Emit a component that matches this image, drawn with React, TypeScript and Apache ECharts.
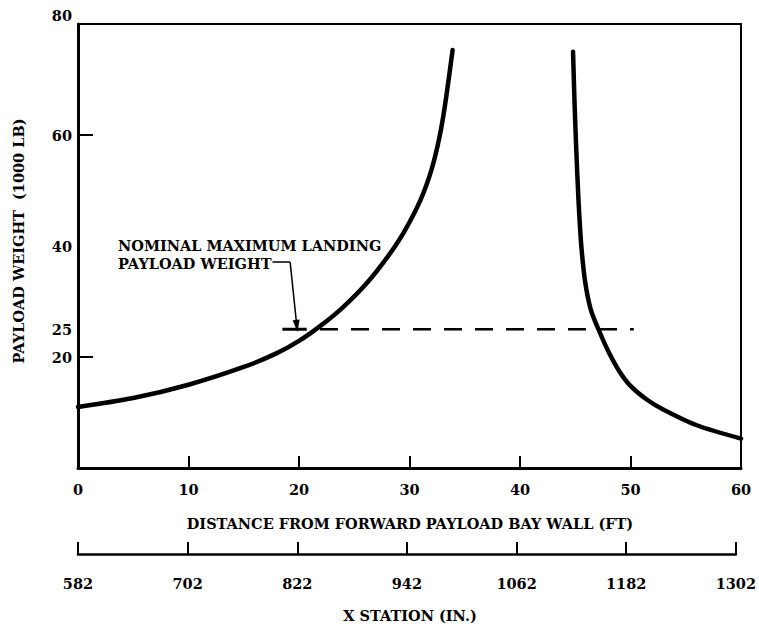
import React, { useEffect, useRef } from 'react';
import * as echarts from 'echarts';

const FONT = '"DejaVu Serif", "Liberation Serif", serif';
const FS = 14.5;

// Tick labels
const xTickLabels = ['0', '10', '20', '30', '40', '50', '60'];
const stationLabels = ['582', '702', '822', '942', '1062', '1182', '1302'];
const yLabelValues = [20, 25, 40, 60, 80];
const yTickValues = [20, 60];

// Curves (distance ft, payload 1000 lb)
const leftX = [0, 5, 10, 15, 18, 20, 22, 24, 26, 28, 29.5, 31, 32, 32.7, 33.2, 33.9];
const leftY = [11.0, 12.6, 15.0, 18.2, 20.7, 22.9, 25.7, 29.0, 33.0, 38.0, 42.5, 48.3, 53.8, 59.5, 65.2, 75.3];
const rightX = [44.8, 44.95, 45.1, 45.3, 45.55, 45.9, 46.4, 47.1, 48.0, 49.0, 50.0, 51.5, 53.0, 56.0, 60];
const rightY = [75, 65, 57, 48, 40, 33.5, 28.6, 25, 21, 17.4, 14.8, 12.3, 10.5, 7.7, 5.3];

// Nominal max landing payload weight line
const nominalWeight = 25;
const markerX = [18.5, 20.7];
const dashedX = [21.9, 50.3];
const leaderPts = [[17.6, 37.1], [19.2, 37.1], [19.8, 25.6]];

const zip = (xs: number[], ys: number[]) => xs.map((x, i) => [x, ys[i]]);

export default function App() {
  const ref = useRef<HTMLDivElement>(null);
  useEffect(() => {
    if (!ref.current) return;
    const chart = echarts.init(ref.current, null, { renderer: 'svg' });
    const labelStyle = {
      color: '#000',
      fontFamily: FONT,
      fontWeight: 'bold' as const,
      fontSize: FS,
    };
    const font = `bold ${FS}px ${FONT}`;
    chart.setOption({
      animation: false,
      backgroundColor: '#fff',
      grid: [
        { left: 78, top: 24, width: 663, height: 444, show: true, borderColor: '#000', borderWidth: 2 },
        { left: 78, top: 553, width: 663, height: 1 },
      ],
      xAxis: [
        {
          type: 'value', gridIndex: 0, min: 0, max: 60, interval: 10,
          axisLine: { show: true, onZero: false, lineStyle: { color: '#000', width: 3 } },
          axisTick: { show: true, inside: true, length: 12, lineStyle: { color: '#000', width: 2 } },
          axisLabel: { ...labelStyle, margin: 14, formatter: (v: number) => xTickLabels[Math.round(v / 10)] ?? '' },
          splitLine: { show: false },
        },
        {
          type: 'value', gridIndex: 1, min: 0, max: 720, interval: 120, position: 'bottom',
          axisLine: { show: true, onZero: false, lineStyle: { color: '#000', width: 2.5 } },
          axisTick: { show: true, inside: true, length: 12, lineStyle: { color: '#000', width: 2 } },
          axisLabel: { ...labelStyle, margin: 22, formatter: (v: number) => stationLabels[Math.round(v / 120)] ?? '' },
          splitLine: { show: false },
        },
      ],
      yAxis: [
        {
          type: 'value', gridIndex: 0, min: 0, max: 80,
          axisLine: { show: true, onZero: false, lineStyle: { color: '#000', width: 3 } },
          axisTick: { show: true, inside: true, length: 15, customValues: yTickValues, lineStyle: { color: '#000', width: 2 } },
          axisLabel: {
            ...labelStyle, margin: 6, customValues: yLabelValues,
            formatter: (v: number) => (v === 80 ? '{t|80}' : String(v)),
            rich: { t: { fontFamily: FONT, fontWeight: 'bold', fontSize: FS, color: '#000', padding: [0, 0, 18, 0] } },
          },
          splitLine: { show: false },
        },
        { type: 'value', gridIndex: 1, min: 0, max: 1, show: false },
      ],
      series: [
        {
          type: 'line', xAxisIndex: 0, yAxisIndex: 0, data: zip(leftX, leftY), showSymbol: false,
          smooth: 0.3, lineStyle: { color: '#000', width: 4.5, cap: 'round' },
        },
        {
          type: 'line', xAxisIndex: 0, yAxisIndex: 0, data: zip(rightX, rightY), showSymbol: false,
          smooth: 0.3, lineStyle: { color: '#000', width: 4.5, cap: 'round' },
        },
        {
          type: 'line', xAxisIndex: 0, yAxisIndex: 0,
          data: markerX.map((x) => [x, nominalWeight]), showSymbol: false,
          lineStyle: { color: '#000', width: 3 },
          markLine: {
            silent: true, animation: false,
            label: { show: false },
            lineStyle: { color: '#000', width: 1.5, type: 'solid' },
            data: [
              [{ coord: leaderPts[0], symbol: 'none' }, { coord: leaderPts[1], symbol: 'none' }],
              [{ coord: leaderPts[1], symbol: 'none' }, { coord: leaderPts[2], symbol: 'triangle', symbolSize: [7, 12] }],
            ],
          },
        },
        {
          type: 'line', xAxisIndex: 0, yAxisIndex: 0,
          data: dashedX.map((x) => [x, nominalWeight]), showSymbol: false,
          lineStyle: { color: '#000', width: 2.5, type: [18, 13] },
        },
      ],
      graphic: [
        { type: 'text', x: 18, y: 241, rotation: Math.PI / 2, style: { text: 'PAYLOAD WEIGHT  (1000 LB)', font, fill: '#000', textAlign: 'center', textVerticalAlign: 'middle' } },
        { type: 'text', x: 410, y: 523, style: { text: 'DISTANCE FROM FORWARD PAYLOAD BAY WALL (FT)', font, fill: '#000', textAlign: 'center', textVerticalAlign: 'middle' } },
        { type: 'text', x: 410, y: 615, style: { text: 'X STATION (IN.)', font, fill: '#000', textAlign: 'center', textVerticalAlign: 'middle' } },
        { type: 'text', x: 118, y: 245, style: { text: 'NOMINAL MAXIMUM LANDING', font, fill: '#000', textAlign: 'left', textVerticalAlign: 'middle' } },
        { type: 'text', x: 118, y: 263, style: { text: 'PAYLOAD WEIGHT', font, fill: '#000', textAlign: 'left', textVerticalAlign: 'middle' } },
      ],
    });
    return () => chart.dispose();
  }, []);
  return <div ref={ref} style={{ width: 759, height: 631, position: 'absolute', left: 0, top: 0 }} />;
}
